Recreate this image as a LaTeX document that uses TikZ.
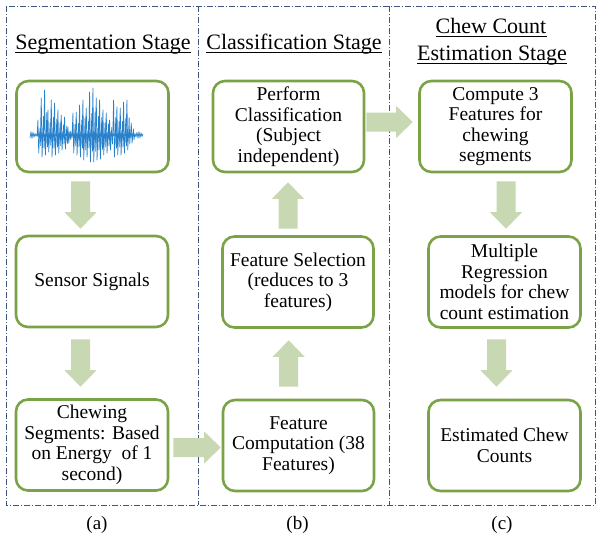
\documentclass[tikz,border=0pt]{standalone}
\usepackage{fontspec}
\setmainfont{Liberation Serif}
\usetikzlibrary{calc}
\definecolor{boxgreen}{RGB}{122,163,72}
\definecolor{arrowfill}{RGB}{200,216,178}
\definecolor{framecol}{RGB}{62,84,122}
\definecolor{wavecol}{RGB}{38,128,204}
% vertical block arrow: #1 start of shaft, #2 tip
\newcommand\blkarrowV[2]{%
  \fill[arrowfill] let \p1=#1, \p2=#2, \n1={sign((\y2)-(\y1))} in
    ({\x1-9.5pt},\y1) -- ({\x1+9.5pt},\y1) -- ({\x1+9.5pt},{\y2-(\n1)*16.5pt}) --
    ({\x1+16pt},{\y2-(\n1)*16.5pt}) -- (\x1,\y2) -- ({\x1-16pt},{\y2-(\n1)*16.5pt}) --
    ({\x1-9.5pt},{\y2-(\n1)*16.5pt}) -- cycle;}
% horizontal block arrow: #1 start of shaft, #2 tip
\newcommand\blkarrowH[2]{%
  \fill[arrowfill] let \p1=#1, \p2=#2, \n1={sign((\x2)-(\x1))} in
    (\x1,{\y1-9.5pt}) -- (\x1,{\y1+9.5pt}) -- ({\x2-(\n1)*16.5pt},{\y1+9.5pt}) --
    ({\x2-(\n1)*16.5pt},{\y1+16pt}) -- (\x2,\y1) -- ({\x2-(\n1)*16.5pt},{\y1-16pt}) --
    ({\x2-(\n1)*16.5pt},{\y1-9.5pt}) -- cycle;}
\begin{document}
\begin{tikzpicture}[x=1pt,y=-1pt,
  stagebox/.style={draw=boxgreen, line width=2.6pt, rounded corners=12pt, fill=white,
    minimum height=91pt, minimum width=152pt, align=center, inner sep=0pt,
    font=\fontsize{19.5}{20.5}\selectfont},
  narrowbox/.style={stagebox, minimum width=151pt},
  title/.style={inner sep=0pt, anchor=base, font=\fontsize{22}{27}\selectfont},
  sublabel/.style={inner sep=0pt, font=\fontsize{19}{22}\selectfont},
  frameline/.style={draw=framecol, line width=0.8pt, dash pattern=on 6pt off 2pt on 1pt off 2pt},
  wave/.style={draw=wavecol, line width=0.7pt, line join=round}]
\useasboundingbox (0,0) rectangle (604,539);
\fill[white] (0,0) rectangle (604,539);

% panel frame
\draw[frameline] (6,6) rectangle (595,505);
\draw[frameline] (198.5,6) -- (198.5,505);
\draw[frameline] (389,6) -- (389,505);

% titles
\node[title] (t1) at (103,49) {Segmentation Stage};
\node[title] (t2) at (294,49) {Classification Stage};
\node[title] (t3a) at (491,33) {Chew Count};
\node[title] (t3b) at (492,60) {Estimation Stage};
\foreach \t in {t1,t2,t3a,t3b}
  \draw[line width=0.9pt] ([yshift=-3pt]\t.base west) -- ([yshift=-3pt]\t.base east);

% boxes
\node[stagebox] (a1) at (92.5,126.5) {};
\node[stagebox] (a2) at (92,281.5) {Sensor Signals};
\node[stagebox] (a3) at (92,445) {Chewing\\Segments: Based\\on Energy~ of 1\\second)};
\node[narrowbox] (b1) at (288.5,126.5) {Perform\\Classification\\(Subject\\independent)};
\node[narrowbox] (b2) at (298,282) {Feature Selection\\(reduces to 3\\features)};
\node[narrowbox] (b3) at (298.5,445.5) {Feature\\Computation (38\\Features)};
\node[stagebox] (c1) at (495.5,126.5) {Compute 3\\Features for\\chewing\\segments};
\node[stagebox] (c2) at (504.5,282) {Multiple\\Regression\\models for chew\\count estimation};
\node[stagebox] (c3) at (504.5,445.5) {Estimated Chew\\Counts};

% waveform inside a1
\draw[wave] plot[domain=30:143, samples=114]
  (\x, {135+2.2*cos(mod(\x,2)*180)*(1+0.5*sin(\x*37))});
\foreach \zx/\u/\d in {55/15/18, 65/37/22, 75/45/20, 85/25/17, 95/35/22, 105/32/20,
   115/25/18, 125/20/15, 135/18/14, 145/8/8, 160/22/18, 170/23/20, 180/30/22,
   190/35/25, 200/27/22, 210/43/27, 220/47/27, 230/37/25, 240/35/24, 250/25/20,
   260/22/18, 270/15/15, 282/35/22, 292/28/20, 302/27/20, 312/33/18, 322/35/15, 335/12/8}{
  \pgfmathsetmacro\xx{\zx/3+20}
  \draw[wave] (\xx-1.2,135) -- (\xx-0.4,135-\u) -- (\xx+0.4,135+\d) -- (\xx+1.2,135)
     -- (\xx+1.8,135-0.5*\u) -- (\xx+2.4,135+0.6*\d) -- (\xx+3,135);
}

% block arrows
\blkarrowV{($(a1.south)+(-12,8)$)}{($(a2.north)+(-12,-6)$)}
\blkarrowV{($(a2.south)+(-11.5,11)$)}{($(a3.north)+(-11.5,-11.5)$)}
\blkarrowV{($(b3.north)+(-9.8,-12)$)}{($(b2.south)+(-9.3,11.5)$)}
\blkarrowV{($(b2.north)+(-10,-6.5)$)}{($(b1.south)+(-0.5,9)$)}
\blkarrowH{($(b1.east)+(1,-4.5)$)}{($(c1.west)+(-5.5,-4.5)$)}
\blkarrowH{($(a3.east)+(4,2.5)$)}{($(b3.west)+(-1,2.5)$)}
\blkarrowV{($(c1.south)+(10.5,8)$)}{($(c2.north)+(1.5,-6.5)$)}
\blkarrowV{($(c2.south)+(-8,10.5)$)}{($(c3.north)+(-8,-12)$)}

% panel labels
\node[sublabel] (la) at (97,525) {(a)};
\node[sublabel] (lb) at (297.5,525) {(b)};
\node[sublabel] (lc) at (502,525) {(c)};
\end{tikzpicture}
\end{document}
